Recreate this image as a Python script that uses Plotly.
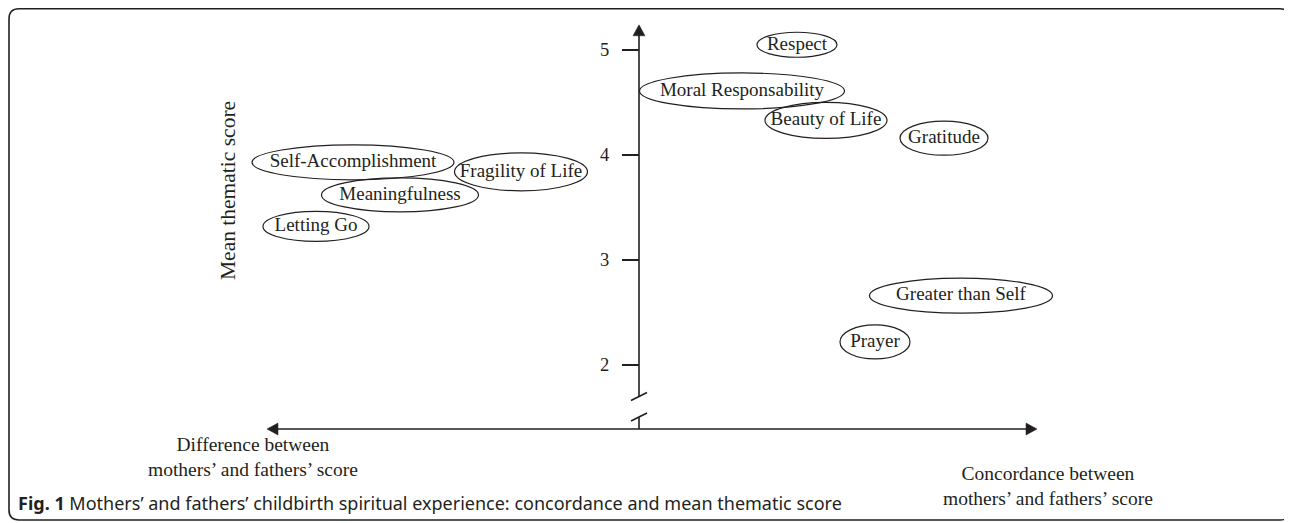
import plotly.graph_objects as go

# ---------------- data ----------------
themes = ["Respect", "Moral Responsability", "Beauty of Life", "Gratitude",
          "Self-Accomplishment", "Fragility of Life", "Meaningfulness",
          "Letting Go", "Greater than Self", "Prayer"]
# horizontal position: <0 difference between parents, >0 concordance
concordance = [1.58, 1.03, 1.87, 3.05, -2.86, -1.18, -2.39, -3.23, 3.22, 2.36]
mean_score = [5.05, 4.61, 4.33, 4.16, 3.93, 3.84, 3.62, 3.32, 2.66, 2.22]
y_tick_values = [2, 3, 4, 5]
y_tick_labels = ["2", "3", "4", "5"]

# ---------------- styling / layout ----------------
PAGE_W, PAGE_H = 1292, 523
OFF = 8                           # browser body margin
W, H = PAGE_W - OFF, PAGE_H - OFF
AXIS_PX = 639          # page column of the vertical axis
PX_PER_X = 100.0       # pixels per concordance unit
PX_PER_Y = 105.0       # pixels per score unit
Y5_PX = 50             # page row of score 5
INK = "#231f20"
SERIF = "Liberation Serif, Times New Roman, serif"
SANS = "Noto Sans, Open Sans, sans-serif"

# ellipse size around each label (pixels)
ell_w = [80, 205, 122, 88, 202, 133, 157, 106, 183, 70]
ell_h = [25, 36, 36, 34, 35, 38, 34, 30, 35, 34]

x_range = [(OFF - AXIS_PX) / PX_PER_X, (OFF + W - AXIS_PX) / PX_PER_X]
y_range = [5 - (OFF + H - Y5_PX) / PX_PER_Y, 5 + (Y5_PX - OFF) / PX_PER_Y]

# axis extents (data units)
x_left, x_right = -3.72, 3.98
y_top, y_base = 5.24, 1.39
y_breaks = [1.70, 1.505]

dx = lambda p: p / PX_PER_X
dy = lambda p: p / PX_PER_Y

fig = go.Figure()

# labels
fig.add_trace(go.Scatter(
    x=concordance, y=mean_score, mode="text", text=themes,
    textposition="middle center",
    textfont=dict(family=SERIF, size=19, color=INK),
    hoverinfo="skip", showlegend=False,
))

shapes = []
# ellipses
for xc, yc, w, h in zip(concordance, mean_score, ell_w, ell_h):
    shapes.append(dict(type="circle", xref="x", yref="y",
                       x0=xc - dx(w / 2), x1=xc + dx(w / 2),
                       y0=yc - dy(h / 2), y1=yc + dy(h / 2),
                       line=dict(color=INK, width=1.2)))

LW = 1.6
ah_len, ah_half = 11, 6
# horizontal axis
shapes.append(dict(type="line", xref="x", yref="y",
                   x0=x_left + dx(ah_len - 1), x1=x_right - dx(ah_len - 1),
                   y0=y_base, y1=y_base, line=dict(color=INK, width=LW)))
for tip, sgn in [(x_left, 1), (x_right, -1)]:
    bx = tip + sgn * dx(ah_len)
    shapes.append(dict(type="path", xref="x", yref="y",
                       path=f"M{tip},{y_base} L{bx},{y_base + dy(ah_half)} L{bx},{y_base - dy(ah_half)} Z",
                       fillcolor=INK, line=dict(color=INK, width=0.5)))
# vertical axis (with break)
shapes.append(dict(type="line", xref="x", yref="y", x0=0, x1=0,
                   y0=y_top - dy(ah_len - 1), y1=y_breaks[0],
                   line=dict(color=INK, width=LW)))
shapes.append(dict(type="line", xref="x", yref="y", x0=0, x1=0,
                   y0=y_breaks[1], y1=y_base,
                   line=dict(color=INK, width=LW)))
by = y_top - dy(ah_len)
shapes.append(dict(type="path", xref="x", yref="y",
                   path=f"M0,{y_top} L{dx(ah_half)},{by} L{-dx(ah_half)},{by} Z",
                   fillcolor=INK, line=dict(color=INK, width=0.5)))
for yb in y_breaks:
    shapes.append(dict(type="line", xref="x", yref="y",
                       x0=-dx(8), x1=dx(8), y0=yb - dy(4), y1=yb + dy(4),
                       line=dict(color=INK, width=LW)))

# rounded frame (paper coords, given in page pixels)
fx = lambda p: (p - OFF) / W
fy = lambda p: 1 - (p - OFF) / H
L, T, R, B, r = 9, 8.8, 1290, 520, 10
frame = (f"M{fx(L + r)},{fy(T)} L{fx(R - r)},{fy(T)} Q{fx(R)},{fy(T)} {fx(R)},{fy(T + r)} "
         f"L{fx(R)},{fy(B - r)} Q{fx(R)},{fy(B)} {fx(R - r)},{fy(B)} "
         f"L{fx(L + r)},{fy(B)} Q{fx(L)},{fy(B)} {fx(L)},{fy(B - r)} "
         f"L{fx(L)},{fy(T + r)} Q{fx(L)},{fy(T)} {fx(L + r)},{fy(T)} Z")
shapes.append(dict(type="path", xref="paper", yref="paper", path=frame,
                   line=dict(color=INK, width=1.6)))

annotations = [
    dict(xref="paper", yref="paper", x=fx(228), y=fy(191), text="Mean thematic score",
         textangle=-90, showarrow=False, xanchor="center", yanchor="middle",
         font=dict(family=SERIF, size=21.5, color=INK)),
    dict(xref="paper", yref="paper", x=fx(253), y=fy(457),
         text="Difference between<br>mothers’ and fathers’ score",
         showarrow=False, xanchor="center", yanchor="middle", align="center",
         font=dict(family=SERIF, size=19.5, color=INK)),
    dict(xref="paper", yref="paper", x=fx(1048), y=fy(486),
         text="Concordance between<br>mothers’ and fathers’ score",
         showarrow=False, xanchor="center", yanchor="middle", align="center",
         font=dict(family=SERIF, size=19.5, color=INK)),
    dict(xref="paper", yref="paper", x=fx(16), y=fy(503),
         text="<b>Fig. 1</b> Mothers’ and fathers’ childbirth spiritual experience: concordance and mean thematic score",
         showarrow=False, xanchor="left", yanchor="middle",
         font=dict(family=SANS, size=18, color=INK)),
]

fig.update_layout(
    width=W, height=H, margin=dict(l=0, r=0, t=0, b=0),
    paper_bgcolor="white", plot_bgcolor="white",
    shapes=shapes, annotations=annotations, showlegend=False,
    xaxis=dict(range=x_range, visible=False, fixedrange=True),
    yaxis=dict(range=y_range, anchor="free", position=(AXIS_PX - OFF) / W,
               showline=False, showgrid=False, zeroline=False,
               ticks="outside", ticklen=17, tickwidth=LW, tickcolor=INK,
               tickvals=y_tick_values, ticktext=y_tick_labels,
               ticklabelstandoff=9,
               tickfont=dict(family=SERIF, size=18.5, color=INK),
               fixedrange=True),
)

fig.write_html("out.html")
